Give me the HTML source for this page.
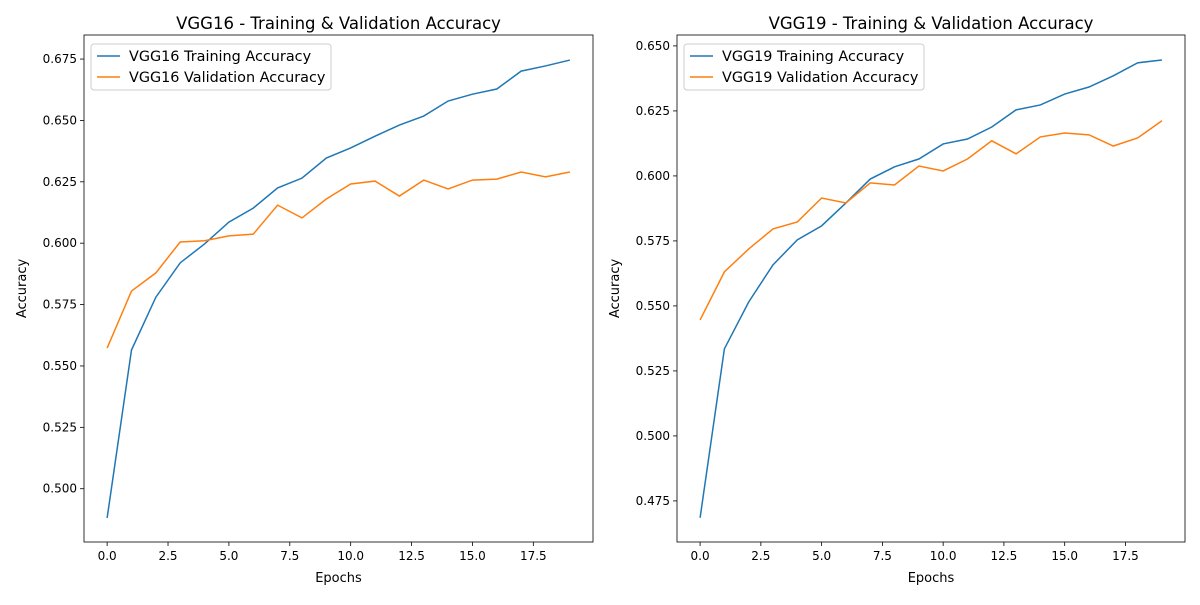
<!DOCTYPE html>
<html><head><meta charset="utf-8"><style>
body{margin:0;background:#fff;font-family:"Liberation Sans",sans-serif}
svg text{font-family:"DejaVu Sans","Liberation Sans",sans-serif}
</style></head><body>
<svg id="chart" width="1200" height="600" xmlns="http://www.w3.org/2000/svg"></svg>
<script>
const epochs=[0,1,2,3,4,5,6,7,8,9,10,11,12,13,14,15,16,17,18,19];
const vgg16Train=[0.4881,0.5565,0.578,0.592,0.5997,0.6086,0.6143,0.6225,0.6265,0.6347,0.6388,0.6436,0.6481,0.6518,0.6579,0.6607,0.6628,0.6701,0.6722,0.6746];
const vgg16Val=[0.5573,0.5805,0.5879,0.6005,0.601,0.603,0.6037,0.6155,0.6103,0.618,0.6241,0.6253,0.6192,0.6257,0.6221,0.6257,0.6261,0.629,0.627,0.629];
const vgg19Train=[0.4685,0.5335,0.5515,0.5658,0.5754,0.5808,0.5896,0.5988,0.6035,0.6065,0.6123,0.6142,0.6188,0.6254,0.6273,0.6315,0.6342,0.6385,0.6435,0.6446];
const vgg19Val=[0.5446,0.5631,0.5719,0.5796,0.5823,0.5915,0.5896,0.5973,0.5965,0.6038,0.6019,0.6065,0.6135,0.6085,0.615,0.6165,0.6158,0.6115,0.6146,0.6212];
const xTicks=[0,2.5,5,7.5,10,12.5,15,17.5];
const yTicks16=[0.5,0.525,0.55,0.575,0.6,0.625,0.65,0.675];
const yTicks19=[0.475,0.5,0.525,0.55,0.575,0.6,0.625,0.65];
const svg=document.getElementById('chart');
const NS='http://www.w3.org/2000/svg';
function mk(tag,attrs,parent){const e=document.createElementNS(NS,tag);for(const k in attrs)e.setAttribute(k,attrs[k]);(parent||svg).appendChild(e);return e;}
function panel(cfg){
  const g=mk('g',{});
  
  
  const L=cfg.left,R=cfg.right,T=35,B=542;
  const xs=v=>L+(v-(-0.95))/(19.95+0.95)*(R-L);
  const ys=v=>B-(v-cfg.ymin)/(cfg.ymax-cfg.ymin)*(B-T);
  const fr=mk('rect',{x:L,y:T,width:R-L,height:B-T,fill:'none',stroke:'#000','stroke-width':0.8},g);
  
  
  xTicks.forEach(t=>{const x=xs(t);mk('line',{x1:x,x2:x,y1:B,y2:B+4,stroke:'#000','stroke-width':0.8},g);
    const tx=mk('text',{x:x,y:B+18,'font-size':12,'text-anchor':'middle'},g);tx.textContent=t.toFixed(1);
    
    });
  cfg.yt.forEach(t=>{const y=ys(t);mk('line',{x1:L-4,x2:L,y1:y,y2:y,stroke:'#000','stroke-width':0.8},g);
    const tx=mk('text',{x:L-7,y:y+4,'font-size':12,'text-anchor':'end'},g);tx.textContent=t.toFixed(3);
    
    });
  const ti=mk('text',{x:(L+R)/2,y:29,'font-size':16.5,'text-anchor':'middle'},g);ti.textContent=cfg.title;
  
  
  const xl=mk('text',{x:(L+R)/2,y:582,'font-size':13,'text-anchor':'middle'},g);xl.textContent='Epochs';
  
  
  const yl=mk('text',{x:0,y:0,'font-size':13,'text-anchor':'middle',transform:`translate(${L-58},${(T+B)/2}) rotate(-90)`},g);yl.textContent='Accuracy';
  
  
  [[cfg.train,'#1f77b4','training-line'],[cfg.val,'#ff7f0e','validation-line']].forEach(([d,c,n])=>{
    const p=mk('polyline',{points:epochs.map((e,i)=>xs(e)+','+ys(d[i])).join(' '),fill:'none',stroke:c,'stroke-width':1.5},g);
    
    
  });
  const lg=mk('g',{},g);
  
  
  mk('rect',{x:L+7,y:T+9,width:cfg.lw,height:46,rx:3,fill:'#fff',stroke:'#ccc','stroke-width':1},lg);
  [[cfg.id.toUpperCase()+' Training Accuracy','#1f77b4'],[cfg.id.toUpperCase()+' Validation Accuracy','#ff7f0e']].forEach(([s,c],i)=>{
    const y=T+21+i*21;
    mk('line',{x1:L+13,x2:L+36,y1:y,y2:y,stroke:c,'stroke-width':1.5},lg);
    const tx=mk('text',{x:L+45,y:y+5,'font-size':14.4},lg);tx.textContent=s;
    
    
  });
}
panel({id:'vgg16',left:84,right:593,ymin:0.4783,ymax:0.6848,yt:yTicks16,train:vgg16Train,val:vgg16Val,title:'VGG16 - Training & Validation Accuracy',lw:240});
panel({id:'vgg19',left:677,right:1185,ymin:0.4592,ymax:0.6542,yt:yTicks19,train:vgg19Train,val:vgg19Val,title:'VGG19 - Training & Validation Accuracy',lw:240});
</script>
</body></html>
